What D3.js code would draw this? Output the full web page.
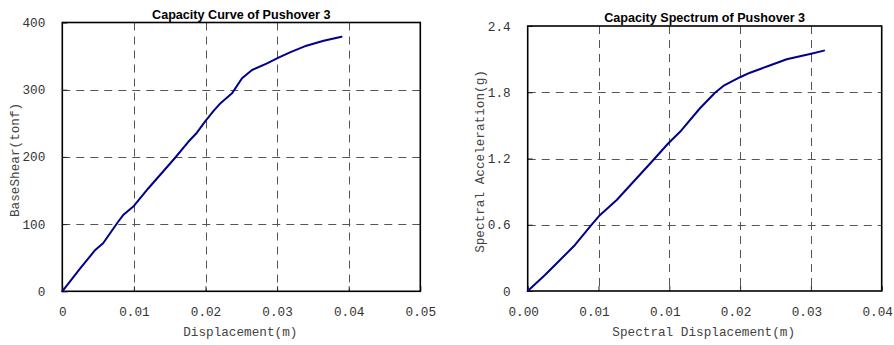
<!DOCTYPE html>
<html>
<head>
<meta charset="utf-8">
<script src="https://cdn.jsdelivr.net/npm/d3@7"></script>
<style>
  html, body { margin: 0; padding: 0; background: #fff; }
  svg { display: block; }
</style>
</head>
<body>
<svg id="chart" width="894" height="345"></svg>
<script>
// ---- Data: Capacity Curve (left) ----
const curveDisp  = [0, 0.0025, 0.0046, 0.0057, 0.0078, 0.0085, 0.0100, 0.0120, 0.0157, 0.0176, 0.0188, 0.0199, 0.0211, 0.0221, 0.0237, 0.0251, 0.0265, 0.0286, 0.0302, 0.0318, 0.0341, 0.0365, 0.0390];
const curveShear = [0, 34, 61.5, 71.5, 103.5, 113.5, 127, 153, 198, 222.5, 236, 252, 268, 280, 294.6, 317, 329.3, 339.3, 347.6, 355.6, 365.5, 372.9, 378.9];
const curveXTicks = [0, 0.01, 0.02, 0.03, 0.04, 0.05];
const curveXTickLabels = ["0", "0.01", "0.02", "0.03", "0.04", "0.05"];
const curveYTicks = [0, 100, 200, 300, 400];
const curveYTickLabels = ["0", "100", "200", "300", "400"];

// ---- Data: Capacity Spectrum (right) ----
const specDisp = [0, 0.00183, 0.00324, 0.00501, 0.0066, 0.00755, 0.00943, 0.01137, 0.01314, 0.0149, 0.01625, 0.01825, 0.01984, 0.02072, 0.02249, 0.02355, 0.02549, 0.02744, 0.02991, 0.03139];
const specAcc  = [0, 0.145, 0.265, 0.417, 0.582, 0.679, 0.824, 1.005, 1.171, 1.338, 1.452, 1.655, 1.796, 1.857, 1.936, 1.977, 2.038, 2.099, 2.147, 2.177];
const specXTicks = [0, 0.0075, 0.015, 0.0225, 0.03, 0.0375];
const specXTickLabels = ["0.00", "0.01", "0.01", "0.02", "0.03", "0.04"];
const specYTicks = [0, 0.6, 1.2, 1.8, 2.4];
const specYTickLabels = ["0", "0.6", "1.2", "1.8", "2.4"];

const svg = d3.select("#chart");
const MONO = "'Liberation Mono', 'DejaVu Sans Mono', monospace";
const SANS = "'Liberation Sans', Arial, sans-serif";

function drawPanel(cfg) {
  const x = d3.scaleLinear().domain([cfg.xTicks[0], cfg.xTicks[cfg.xTicks.length - 1]]).range([cfg.left, cfg.right]);
  const y = d3.scaleLinear().domain([cfg.yTicks[0], cfg.yTicks[cfg.yTicks.length - 1]]).range([cfg.bottom, cfg.top]);
  const g = svg.append("g");

  // grid
  g.append("g").selectAll("line.vg").data(cfg.xTicks.slice(1, -1)).join("line")
    .attr("x1", d => Math.round(x(d)) + 0.5).attr("x2", d => Math.round(x(d)) + 0.5)
    .attr("y1", cfg.top).attr("y2", cfg.bottom)
    .attr("stroke", "#555").attr("stroke-width", 1).attr("stroke-dasharray", "8,6");
  g.append("g").selectAll("line.hg").data(cfg.yTicks.slice(1, -1)).join("line")
    .attr("y1", d => Math.round(y(d)) + 0.5).attr("y2", d => Math.round(y(d)) + 0.5)
    .attr("x1", cfg.left).attr("x2", cfg.right)
    .attr("stroke", "#555").attr("stroke-width", 1).attr("stroke-dasharray", "8,6");

  // axes with ticks inside
  const xAxis = d3.axisBottom(x).tickValues(cfg.xTicks).tickSize(-5).tickFormat((d, i) => cfg.xTickLabels[i]).tickPadding(16);
  const ax = g.append("g").attr("transform", `translate(0,${cfg.bottom})`).call(xAxis);
  ax.select(".domain").remove();
  ax.selectAll("line").attr("stroke", "#222");
  ax.selectAll("text").attr("font-family", MONO).attr("font-size", "12.7px").attr("fill", "#333")
    .attr("dx", cfg.xLabelDx);

  const yAxis = d3.axisLeft(y).tickValues(cfg.yTicks).tickSize(-5).tickFormat((d, i) => cfg.yTickLabels[i]).tickPadding(17);
  const ay = g.append("g").attr("transform", `translate(${cfg.left},0)`).call(yAxis);
  ay.select(".domain").remove();
  ay.selectAll("line").attr("stroke", "#222");
  ay.selectAll("text").attr("font-family", MONO).attr("font-size", "12.7px").attr("fill", "#333");

  // frame
  g.append("rect").attr("x", cfg.left).attr("y", cfg.top)
    .attr("width", cfg.right - cfg.left).attr("height", cfg.bottom - cfg.top)
    .attr("fill", "none").attr("stroke", "#000").attr("stroke-width", 1.6);

  // curve
  const pts = cfg.xs.map((v, i) => [v, cfg.ys[i]]);
  g.append("path").datum(pts)
    .attr("d", d3.line().x(d => x(d[0])).y(d => y(d[1])).curve(d3.curveLinear))
    .attr("fill", "none").attr("stroke", "#000088").attr("stroke-width", 2)
    .attr("stroke-linejoin", "round").attr("stroke-linecap", "round");

  // title
  g.append("text").attr("x", (cfg.left + cfg.right) / 2).attr("y", cfg.titleY)
    .attr("text-anchor", "middle").attr("font-family", SANS).attr("font-weight", "bold")
    .attr("font-size", "12.6px").attr("fill", "#000").text(cfg.title);

  // x title
  g.append("text").attr("x", (cfg.left + cfg.right) / 2 - 1).attr("y", cfg.bottom + 45)
    .attr("text-anchor", "middle").attr("font-family", MONO).attr("font-size", "12.7px")
    .attr("fill", "#444").text(cfg.xTitle);

  // y title
  const ycy = (cfg.top + cfg.bottom) / 2 + 3;
  g.append("text").attr("transform", `translate(${cfg.yTitleX},${ycy}) rotate(-90)`)
    .attr("text-anchor", "middle").attr("dominant-baseline", "central")
    .attr("font-family", MONO).attr("font-size", "12.7px")
    .attr("fill", "#444").text(cfg.yTitle);
}

drawPanel({
  left: 62.3, right: 420.3, top: 22.5, bottom: 291.3,
  xTicks: curveXTicks, xTickLabels: curveXTickLabels,
  yTicks: curveYTicks, yTickLabels: curveYTickLabels,
  xs: curveDisp, ys: curveShear,
  title: "Capacity Curve of Pushover 3", titleY: 19,
  xTitle: "Displacement(m)", yTitle: "BaseShear(tonf)", yTitleX: 15,
  xLabelDx: 0
});

drawPanel({
  left: 527.7, right: 881.7, top: 26, bottom: 291,
  xTicks: specXTicks, xTickLabels: specXTickLabels,
  yTicks: specYTicks, yTickLabels: specYTickLabels,
  xs: specDisp, ys: specAcc,
  title: "Capacity Spectrum of Pushover 3", titleY: 21.5,
  xTitle: "Spectral Displacement(m)", yTitle: "Spectral Acceleration(g)", yTitleX: 480,
  xLabelDx: -4.5
});
</script>
</body>
</html>
